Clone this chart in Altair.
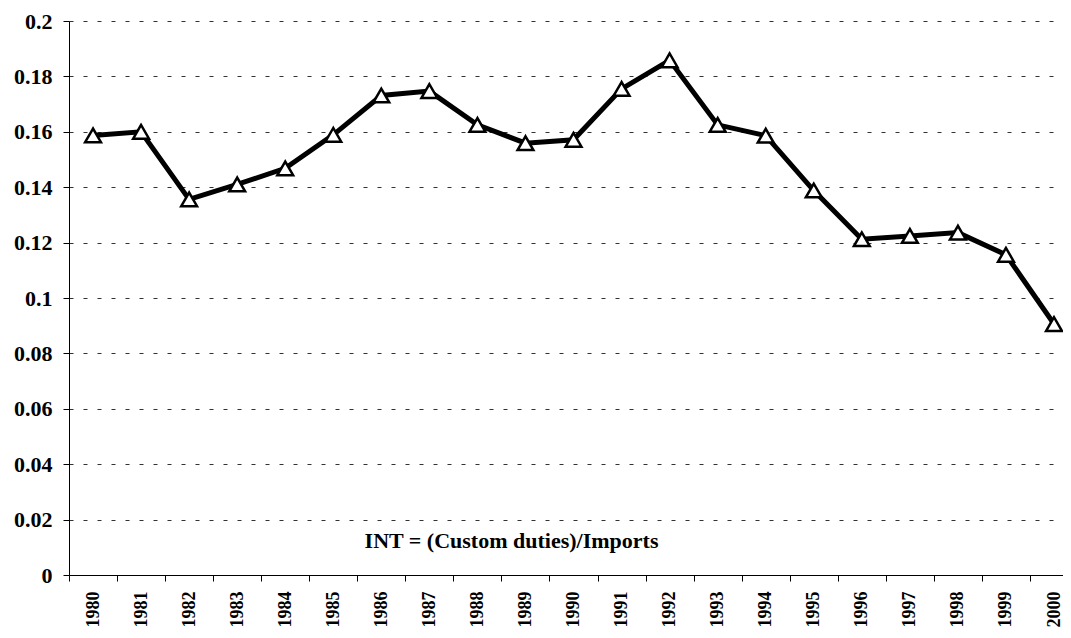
import altair as alt
import pandas as pd

# ---- data ----
years = [1980, 1981, 1982, 1983, 1984, 1985, 1986, 1987, 1988, 1989, 1990,
         1991, 1992, 1993, 1994, 1995, 1996, 1997, 1998, 1999, 2000]
values = [0.1587, 0.1600, 0.1356, 0.1410, 0.1468, 0.1589, 0.1731, 0.1747,
          0.1625, 0.1559, 0.1571, 0.1755, 0.1858, 0.1625, 0.1586, 0.1388,
          0.1212, 0.1224, 0.1236, 0.1156, 0.0906]
y_ticks = [0, 0.02, 0.04, 0.06, 0.08, 0.1, 0.12, 0.14, 0.16, 0.18, 0.2]
annotation = ["INT = (Custom duties)/Imports"]
annotation_pos = [1988.71, 0.0097]

FONT = "Liberation Serif"

df = pd.DataFrame({"year": years, "value": values})
ann = pd.DataFrame({"year": [annotation_pos[0]], "value": [annotation_pos[1]],
                    "text": annotation})

# tick marks sit on the boundaries between the year categories
boundaries = [y - 0.5 for y in years]

x_scale = alt.Scale(domain=[1979.5, 2000.187], nice=False, zero=False)
y_scale = alt.Scale(domain=[0, 0.2], nice=False)

x_label_axis = alt.Axis(
    orient="bottom",
    values=years,
    format="d",
    labelAngle=-90,
    labelAlign="right",
    labelBaseline="middle",
    labelOverlap=False,
    labelFlush=False,
    labelFont=FONT,
    labelFontSize=18,
    labelFontWeight="bold",
    labelColor="black",
    labelPadding=16,
    ticks=False,
    domain=False,
    grid=False,
    title=None,
)

x_tick_axis = alt.Axis(
    orient="bottom",
    values=boundaries,
    labels=False,
    tickSize=6,
    tickColor="black",
    domainColor="black",
    grid=False,
    title=None,
)

y_axis = alt.Axis(
    values=y_ticks,
    format="~g",
    labelFont=FONT,
    labelFontSize=22,
    labelFontWeight="bold",
    labelColor="black",
    labelPadding=11,
    tickSize=6,
    tickColor="black",
    domainColor="black",
    grid=True,
    gridColor="#333333",
    gridDash=[4, 10],
    gridWidth=1,
    title=None,
)

base = alt.Chart(df)

line = base.mark_line(color="black", strokeWidth=5).encode(
    x=alt.X("year:Q", scale=x_scale, axis=x_tick_axis),
    y=alt.Y("value:Q", scale=y_scale, axis=y_axis),
)

points = base.mark_point(
    shape="triangle-up", filled=True, fill="white", stroke="black",
    strokeWidth=2.5, size=250, opacity=1,
).encode(
    x=alt.X("year:Q", scale=x_scale, axis=x_label_axis),
    y=alt.Y("value:Q", scale=y_scale),
)

text = alt.Chart(ann).mark_text(
    font=FONT, fontSize=22, fontWeight="bold", color="black",
    align="center", baseline="alphabetic",
).encode(
    x=alt.X("year:Q", scale=x_scale, axis=None),
    y=alt.Y("value:Q", scale=y_scale),
    text="text:N",
)

chart = alt.layer(line, points, text).resolve_axis(x="independent").properties(
    width=994,
    height=554,
    padding={"left": 61, "top": 13, "right": 0, "bottom": 55},
    autosize=alt.AutoSizeParams(type="none"),
    background="white",
).configure_view(strokeOpacity=0)

chart.save("out.html", embed_options={"renderer": "svg", "actions": False})
